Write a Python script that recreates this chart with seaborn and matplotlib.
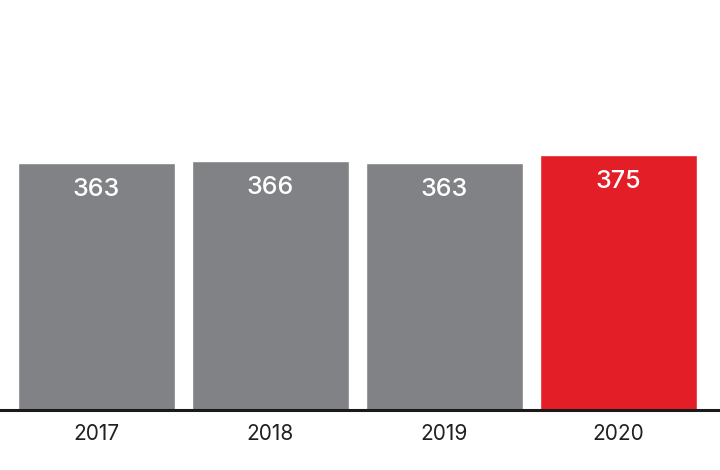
import numpy as np
import pandas as pd
import matplotlib
matplotlib.use('Agg')
import matplotlib.pyplot as plt
import seaborn as sns

years = ['2017', '2018', '2019', '2020']
values = [363, 366, 363, 375]
bar_colors = ['#818285', '#818285', '#818285', '#E31E26']

df = pd.DataFrame({'year': years, 'value': values})

sns.set_style('white')
plt.rcParams['font.family'] = ['Inter', 'DejaVu Sans']

fig = plt.figure(figsize=(7.2, 4.7), dpi=100)
ax = fig.add_axes([0, 60 / 470, 1, 410 / 470])

sns.barplot(data=df, x='year', y='value', hue='year', palette=bar_colors,
            width=0.9, legend=False, saturation=1, ax=ax)

ax.set_xlim(-96.5 / 174, (720 - 96.5) / 174)
ax.set_ylim(0, 410 / 0.68)

for i, v in enumerate(values):
    ax.annotate(str(v), (i, v), xytext=(0, -26), textcoords='offset pixels',
                ha='center', va='center', color='white', fontsize=18,
                fontweight='medium')

for s in ['top', 'left', 'right']:
    ax.spines[s].set_visible(False)
ax.spines['bottom'].set_linewidth(2.2)
ax.spines['bottom'].set_color('#1a1a1a')

ax.set_yticks([])
ax.set_xlabel('')
ax.set_ylabel('')
ax.tick_params(axis='x', length=0, pad=10, labelsize=15, labelcolor='#231f20')

fig.savefig('out.png', dpi=100)
